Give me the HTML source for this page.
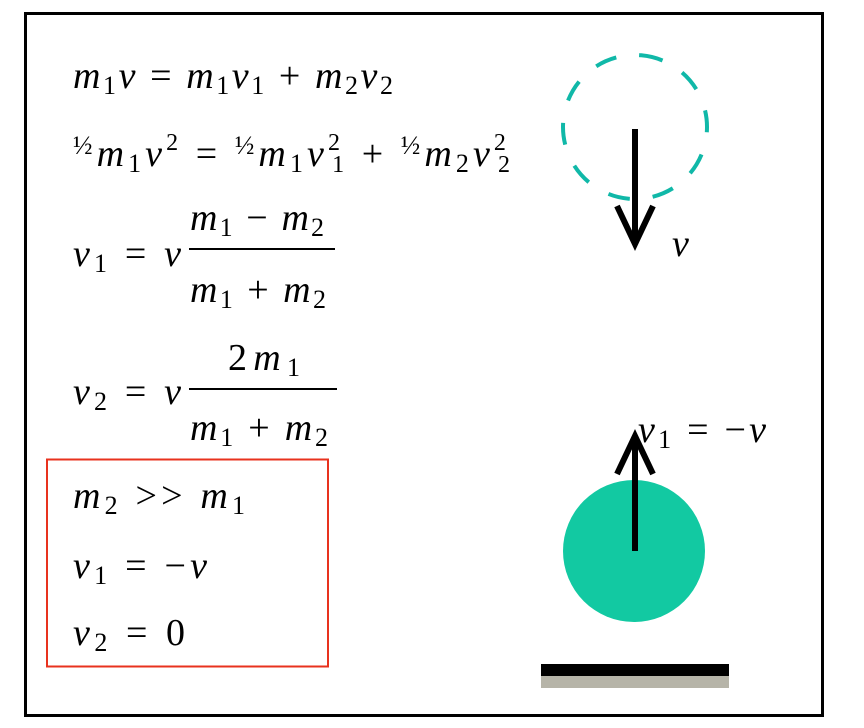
<!DOCTYPE html>
<html><head><meta charset="utf-8"><style>
html,body{margin:0;padding:0;background:#fff;}
svg{display:block;}
text{font-family:"Liberation Serif",serif;fill:#000;}
.i{font-style:italic;}
</style></head><body>
<svg width="864" height="728" viewBox="0 0 864 728">
<rect x="25.5" y="13.5" width="797" height="702" fill="#fff" stroke="#000" stroke-width="3"/>

<g font-size="38">
<text x="73" y="88" textLength="320" lengthAdjust="spacing"><tspan class="i">m</tspan><tspan font-size="26" dy="6">1</tspan><tspan class="i" dy="-6">v</tspan> = <tspan class="i">m</tspan><tspan font-size="26" dy="6">1</tspan><tspan class="i" dy="-6">v</tspan><tspan font-size="26" dy="6">1</tspan><tspan dy="-6"> + </tspan><tspan class="i">m</tspan><tspan font-size="26" dy="6">2</tspan><tspan class="i" dy="-6">v</tspan><tspan font-size="26" dy="6">2</tspan></text>

<text x="73" y="166" textLength="437" lengthAdjust="spacing"><tspan font-size="26" dy="-12">½</tspan><tspan class="i" dy="12">m</tspan><tspan font-size="26" dy="6">1</tspan><tspan class="i" dy="-6">v</tspan><tspan font-size="24" dy="-16">2</tspan><tspan dy="16"> = </tspan><tspan font-size="26" dy="-12">½</tspan><tspan class="i" dy="12">m</tspan><tspan font-size="26" dy="6">1</tspan><tspan class="i" dy="-6">v</tspan><tspan font-size="24" dy="-16">2</tspan><tspan font-size="24" dx="-12" dy="22">1</tspan><tspan dy="-6"> + </tspan><tspan font-size="26" dy="-12">½</tspan><tspan class="i" dy="12">m</tspan><tspan font-size="26" dy="6">2</tspan><tspan class="i" dy="-6">v</tspan><tspan font-size="24" dy="-16">2</tspan><tspan font-size="24" dx="-12" dy="22">2</tspan></text>

<text x="73" y="266" textLength="108" lengthAdjust="spacing"><tspan class="i">v</tspan><tspan font-size="26" dy="6">1</tspan><tspan dy="-6"> = </tspan><tspan class="i">v</tspan></text>
<text x="190" y="230" textLength="134" lengthAdjust="spacing"><tspan class="i">m</tspan><tspan font-size="26" dy="6">1</tspan><tspan dy="-6"> − </tspan><tspan class="i">m</tspan><tspan font-size="26" dy="6">2</tspan></text>
<line x1="189" y1="249" x2="335" y2="249" stroke="#000" stroke-width="2"/>
<text x="190" y="302" textLength="136" lengthAdjust="spacing"><tspan class="i">m</tspan><tspan font-size="26" dy="6">1</tspan><tspan dy="-6"> + </tspan><tspan class="i">m</tspan><tspan font-size="26" dy="6">2</tspan></text>

<text x="73" y="404" textLength="108" lengthAdjust="spacing"><tspan class="i">v</tspan><tspan font-size="26" dy="6">2</tspan><tspan dy="-6"> = </tspan><tspan class="i">v</tspan></text>
<text x="228" y="370" textLength="72" lengthAdjust="spacing">2<tspan class="i">m</tspan><tspan font-size="26" dy="6">1</tspan></text>
<line x1="189" y1="389" x2="337" y2="389" stroke="#000" stroke-width="2"/>
<text x="190" y="440" textLength="138" lengthAdjust="spacing"><tspan class="i">m</tspan><tspan font-size="26" dy="6">1</tspan><tspan dy="-6"> + </tspan><tspan class="i">m</tspan><tspan font-size="26" dy="6">2</tspan></text>
</g>

<rect x="47" y="459.5" width="281" height="207" fill="none" stroke="#e8321e" stroke-width="2"/>
<g font-size="38">
<text x="73" y="508" textLength="172" lengthAdjust="spacing"><tspan class="i">m</tspan><tspan font-size="26" dy="6">2</tspan><tspan dy="-6"> &gt;&gt; </tspan><tspan class="i">m</tspan><tspan font-size="26" dy="6">1</tspan></text>
<text x="73" y="578" textLength="134" lengthAdjust="spacing"><tspan class="i">v</tspan><tspan font-size="26" dy="6">1</tspan><tspan dy="-6"> = −</tspan><tspan class="i">v</tspan></text>
<text x="73" y="645" textLength="112" lengthAdjust="spacing"><tspan class="i">v</tspan><tspan font-size="26" dy="6">2</tspan><tspan dy="-6"> = 0</tspan></text>
</g>

<circle cx="635" cy="127" r="72" fill="none" stroke="#10b8a8" stroke-width="4" stroke-dasharray="22 23" transform="rotate(-85 635 127)"/>
<g>
<line x1="635" y1="129" x2="635" y2="244" stroke="#000" stroke-width="6"/>
<polyline points="617,206 635,244 653,206" fill="none" stroke="#000" stroke-width="6"/>
</g>
<text x="672" y="256" font-size="38" class="i">v</text>

<circle cx="634" cy="551" r="71" fill="#12c9a2"/>
<g>
<line x1="635" y1="551" x2="635" y2="436" stroke="#000" stroke-width="6"/>
<polyline points="617,474 635,436 653,474" fill="none" stroke="#000" stroke-width="6"/>
</g>
<text x="638" y="442" font-size="38" textLength="128" lengthAdjust="spacing"><tspan class="i">v</tspan><tspan font-size="26" dy="6">1</tspan><tspan dy="-6"> = −</tspan><tspan class="i">v</tspan></text>

<rect x="541" y="664" width="188" height="12" fill="#000"/>
<rect x="541" y="676" width="188" height="12" fill="#b6b4a8"/>
</svg>
</body></html>
